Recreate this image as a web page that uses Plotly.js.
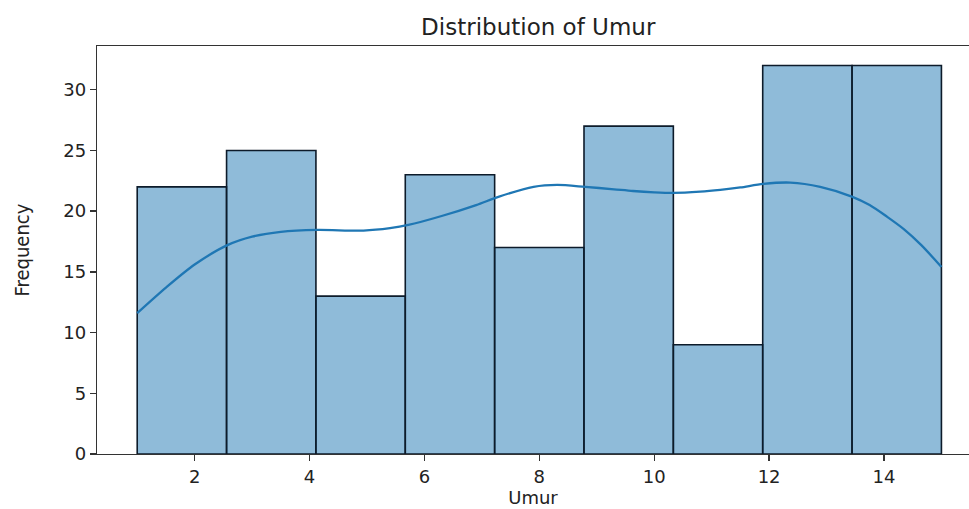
<!DOCTYPE html>
<html>
<head>
<meta charset="utf-8">
<script src="https://cdn.plot.ly/plotly-3.0.1.min.js"></script>
<style>html,body{margin:0;padding:0;background:#fff;}#chart{width:969px;height:509px;}</style>
</head>
<body>
<div id="chart"></div>
<script>
// Histogram of Umur: 9 bins from 1 to 15
const binStart = 1;
const binEnd = 15;
const counts = [22, 25, 13, 23, 17, 27, 9, 32, 32];

// KDE curve
const kdeX = [1.0, 1.5, 2.0, 2.57, 3.0, 3.5, 4.13, 4.94, 5.4, 5.72, 6.3, 6.9, 7.3, 7.9, 8.31, 8.8, 9.3, 9.63, 10.0, 10.33, 10.8, 11.15, 11.5, 11.9, 12.37, 12.89, 13.44, 13.75, 14.05, 14.35, 14.65, 15.0];
const kdeY = [11.6, 13.7, 15.6, 17.2, 17.9, 18.3, 18.45, 18.4, 18.6, 18.86, 19.6, 20.5, 21.2, 22.0, 22.16, 22.0, 21.8, 21.66, 21.55, 21.5, 21.6, 21.75, 21.95, 22.24, 22.35, 22.0, 21.2, 20.5, 19.55, 18.5, 17.2, 15.4];

const xTicks = [2, 4, 6, 8, 10, 12, 14];
const yTicks = [0, 5, 10, 15, 20, 25, 30];

const nb = counts.length;
const bw = (binEnd - binStart) / nb;
const centers = counts.map((_, i) => binStart + bw * (i + 0.5));

const font = 'DejaVu Sans, sans-serif';
const traces = [
  {
    type: 'bar', x: centers, y: counts, width: bw,
    marker: {color: 'rgba(31,119,180,0.5)', line: {color: '#0d1b2a', width: 1.6}},
    hoverinfo: 'x+y', showlegend: false
  },
  {
    type: 'scatter', mode: 'lines', x: kdeX, y: kdeY,
    line: {color: '#1f77b4', width: 2.3, shape: 'spline', smoothing: 0.8},
    showlegend: false
  }
];

const layout = {
  width: 969, height: 509,
  margin: {l: 97, r: 0, t: 46, b: 55},
  paper_bgcolor: '#fff', plot_bgcolor: '#fff',
  bargap: 0,
  font: {family: font, color: '#222', size: 17},
  title: {text: 'Distribution of Umur', font: {family: font, size: 23, color: '#222'},
          x: 0.506, xref: 'paper', xanchor: 'center', y: 1 - 27/509, yanchor: 'middle'},
  xaxis: {
    range: [0.3, 15.48], tickvals: xTicks, ticktext: xTicks.map(String),
    showgrid: false, zeroline: false, showline: true, linecolor: '#333', linewidth: 1.3, mirror: true,
    ticks: 'outside', ticklen: 6, tickcolor: '#333', tickwidth: 1.3,
    tickfont: {family: font, size: 18, color: '#222'},
    title: {text: 'Umur', font: {family: font, size: 18, color: '#222'}, standoff: 5}
  },
  yaxis: {
    range: [0, 33.6], tickvals: yTicks, ticktext: yTicks.map(String),
    showgrid: false, zeroline: false, showline: true, linecolor: '#333', linewidth: 1.3,
    ticks: 'outside', ticklen: 6, tickcolor: '#333', tickwidth: 1.3,
    tickfont: {family: font, size: 18, color: '#222'},
    title: {text: 'Frequency', font: {family: 'DejaVu Sans Condensed, Liberation Sans Narrow, DejaVu Sans, sans-serif', size: 20, color: '#222'}, standoff: 28}
  }
};

Plotly.newPlot('chart', traces, layout, {displayModeBar: false, staticPlot: true});
</script>
</body>
</html>
